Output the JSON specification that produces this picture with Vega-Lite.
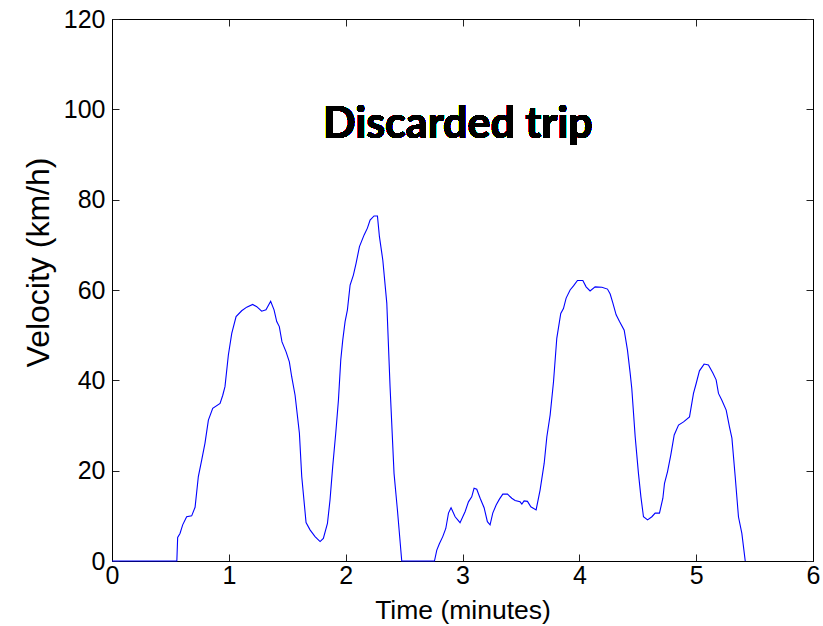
{
  "$schema": "https://vega.github.io/schema/vega-lite/v6.json",
  "width": 701,
  "height": 542,
  "autosize": {"type": "none"},
  "padding": {"left": 112, "top": 19, "right": 10, "bottom": 65},
  "background": "white",
  "config": {
    "view": {"stroke": "black", "strokeWidth": 1},
    "axis": {
      "grid": false,
      "domainColor": "black",
      "domainWidth": 1,
      "tickColor": "#222222",
      "tickSize": -7,
      "tickWidth": 1,
      "labelFont": "Liberation Sans",
      "labelFontSize": 25,
      "labelColor": "black",
      "labelFlush": false,
      "labelOverlap": false,
      "titleFont": "Liberation Sans",
      "titleFontWeight": "normal",
      "titleColor": "black"
    }
  },
  "data": {
    "values": [
      {"t": 0.0, "v": 0}, {"t": 0.555, "v": 0}, {"t": 0.562, "v": 5.2}, {"t": 0.582, "v": 6.1},
      {"t": 0.605, "v": 8.0}, {"t": 0.639, "v": 9.8}, {"t": 0.682, "v": 10.0}, {"t": 0.711, "v": 11.9},
      {"t": 0.739, "v": 18.7}, {"t": 0.768, "v": 22.4}, {"t": 0.796, "v": 26.1}, {"t": 0.825, "v": 31.2},
      {"t": 0.862, "v": 33.8}, {"t": 0.925, "v": 34.9}, {"t": 0.948, "v": 36.7}, {"t": 0.967, "v": 38.6},
      {"t": 0.996, "v": 45.6}, {"t": 1.025, "v": 50.4}, {"t": 1.062, "v": 54.1}, {"t": 1.11, "v": 55.4},
      {"t": 1.153, "v": 56.2}, {"t": 1.204, "v": 56.8}, {"t": 1.239, "v": 56.3}, {"t": 1.281, "v": 55.3},
      {"t": 1.318, "v": 55.6}, {"t": 1.358, "v": 57.5}, {"t": 1.387, "v": 55.6}, {"t": 1.41, "v": 53.0},
      {"t": 1.432, "v": 51.9}, {"t": 1.455, "v": 48.5}, {"t": 1.49, "v": 46.3}, {"t": 1.518, "v": 44.1},
      {"t": 1.538, "v": 40.8}, {"t": 1.567, "v": 36.7}, {"t": 1.604, "v": 28.3}, {"t": 1.624, "v": 18.7},
      {"t": 1.661, "v": 8.5}, {"t": 1.695, "v": 6.9}, {"t": 1.738, "v": 5.4}, {"t": 1.781, "v": 4.3},
      {"t": 1.809, "v": 5.0}, {"t": 1.844, "v": 8.3}, {"t": 1.866, "v": 13.5}, {"t": 1.889, "v": 20.9},
      {"t": 1.915, "v": 28.3}, {"t": 1.938, "v": 35.6}, {"t": 1.958, "v": 44.5}, {"t": 1.975, "v": 48.9},
      {"t": 1.995, "v": 53.0}, {"t": 2.015, "v": 55.6}, {"t": 2.038, "v": 61.1}, {"t": 2.066, "v": 63.3},
      {"t": 2.089, "v": 65.9}, {"t": 2.118, "v": 69.6}, {"t": 2.158, "v": 72.2}, {"t": 2.186, "v": 73.7},
      {"t": 2.209, "v": 75.5}, {"t": 2.243, "v": 76.4}, {"t": 2.272, "v": 76.4}, {"t": 2.289, "v": 71.8},
      {"t": 2.318, "v": 66.6}, {"t": 2.352, "v": 57.1}, {"t": 2.38, "v": 38.6}, {"t": 2.414, "v": 19.4},
      {"t": 2.443, "v": 11.3}, {"t": 2.48, "v": 0}, {"t": 2.76, "v": 0}, {"t": 2.78, "v": 2.4},
      {"t": 2.802, "v": 3.8}, {"t": 2.831, "v": 5.4}, {"t": 2.857, "v": 7.2}, {"t": 2.88, "v": 10.6},
      {"t": 2.902, "v": 11.8}, {"t": 2.937, "v": 9.8}, {"t": 2.979, "v": 8.5}, {"t": 3.022, "v": 10.9},
      {"t": 3.051, "v": 13.1}, {"t": 3.079, "v": 14.2}, {"t": 3.099, "v": 16.1}, {"t": 3.122, "v": 15.9},
      {"t": 3.151, "v": 13.9}, {"t": 3.185, "v": 11.8}, {"t": 3.213, "v": 8.7}, {"t": 3.236, "v": 8.0},
      {"t": 3.259, "v": 10.6}, {"t": 3.288, "v": 12.4}, {"t": 3.316, "v": 13.7}, {"t": 3.345, "v": 14.8},
      {"t": 3.385, "v": 14.8}, {"t": 3.422, "v": 13.9}, {"t": 3.45, "v": 13.4}, {"t": 3.493, "v": 13.1},
      {"t": 3.508, "v": 12.6}, {"t": 3.527, "v": 13.3}, {"t": 3.556, "v": 13.2}, {"t": 3.585, "v": 12.0},
      {"t": 3.63, "v": 11.3}, {"t": 3.664, "v": 15.7}, {"t": 3.699, "v": 21.6}, {"t": 3.722, "v": 27.5},
      {"t": 3.75, "v": 32.3}, {"t": 3.779, "v": 39.7}, {"t": 3.807, "v": 49.3}, {"t": 3.841, "v": 54.8},
      {"t": 3.864, "v": 55.9}, {"t": 3.887, "v": 58.2}, {"t": 3.921, "v": 60.0}, {"t": 3.95, "v": 60.9},
      {"t": 3.984, "v": 62.1}, {"t": 4.03, "v": 62.1}, {"t": 4.058, "v": 60.7}, {"t": 4.092, "v": 59.8},
      {"t": 4.135, "v": 60.7}, {"t": 4.193, "v": 60.6}, {"t": 4.241, "v": 60.2}, {"t": 4.264, "v": 59.1},
      {"t": 4.286, "v": 57.2}, {"t": 4.315, "v": 54.5}, {"t": 4.344, "v": 53.0}, {"t": 4.384, "v": 51.1},
      {"t": 4.412, "v": 46.7}, {"t": 4.435, "v": 41.6}, {"t": 4.449, "v": 38.2}, {"t": 4.478, "v": 27.5},
      {"t": 4.506, "v": 19.4}, {"t": 4.527, "v": 14.2}, {"t": 4.549, "v": 9.8}, {"t": 4.584, "v": 9.1},
      {"t": 4.621, "v": 9.8}, {"t": 4.649, "v": 10.6}, {"t": 4.686, "v": 10.6}, {"t": 4.715, "v": 13.9},
      {"t": 4.729, "v": 17.2}, {"t": 4.755, "v": 19.8}, {"t": 4.783, "v": 23.5}, {"t": 4.812, "v": 27.9},
      {"t": 4.849, "v": 30.1}, {"t": 4.892, "v": 30.8}, {"t": 4.943, "v": 31.9}, {"t": 4.977, "v": 37.1},
      {"t": 5.0, "v": 39.3}, {"t": 5.028, "v": 42.1}, {"t": 5.068, "v": 43.6}, {"t": 5.105, "v": 43.4},
      {"t": 5.143, "v": 41.6}, {"t": 5.171, "v": 40.1}, {"t": 5.191, "v": 37.1}, {"t": 5.22, "v": 35.6},
      {"t": 5.257, "v": 33.4}, {"t": 5.285, "v": 29.7}, {"t": 5.306, "v": 27.2}, {"t": 5.334, "v": 18.7},
      {"t": 5.362, "v": 9.8}, {"t": 5.391, "v": 6.1}, {"t": 5.42, "v": 0}
    ]
  },
  "layer": [
    {
      "mark": {"type": "line", "color": "#0000FF", "strokeWidth": 1.1, "interpolate": "linear"},
      "encoding": {
        "x": {
          "field": "t", "type": "quantitative",
          "scale": {"domain": [0, 6], "nice": false, "zero": false},
          "axis": {
            "orient": "bottom", "values": [0, 1, 2, 3, 4, 5, 6],
            "labelPadding": 9,
            "title": "Time (minutes)", "titleFontSize": 26.5,
            "titleBaseline": "alphabetic", "titleY": 57
          }
        },
        "y": {
          "field": "v", "type": "quantitative",
          "scale": {"domain": [0, 120], "nice": false, "zero": false},
          "axis": {
            "orient": "left", "values": [0, 20, 40, 60, 80, 100, 120],
            "labelPadding": 14,
            "title": "Velocity (km/h)", "titleFontSize": 32,
            "titleX": -74, "titleY": 243, "titleBaseline": "middle"
          }
        }
      }
    },
    {
      "mark": {"type": "line", "strokeOpacity": 0},
      "encoding": {
        "x": {
          "field": "t", "type": "quantitative",
          "scale": {"domain": [0, 6], "nice": false, "zero": false},
          "axis": {"orient": "top", "values": [0, 1, 2, 3, 4, 5, 6], "labels": false, "title": null}
        },
        "y": {
          "field": "v", "type": "quantitative",
          "scale": {"domain": [0, 120], "nice": false, "zero": false},
          "axis": {"orient": "right", "values": [0, 20, 40, 60, 80, 100, 120], "labels": false, "title": null}
        }
      }
    },
    {
      "mark": {
        "type": "text", "font": "Lato", "fontWeight": "bold", "fontSize": 43,
        "color": "black", "align": "center", "baseline": "middle"
      },
      "encoding": {
        "x": {"datum": 2.96, "type": "quantitative", "axis": null},
        "y": {"datum": 96.5, "type": "quantitative", "axis": null},
        "text": {"value": "Discarded trip"}
      }
    }
  ],
  "resolve": {
    "scale": {"x": "shared", "y": "shared"},
    "axis": {"x": "independent", "y": "independent"}
  }
}
